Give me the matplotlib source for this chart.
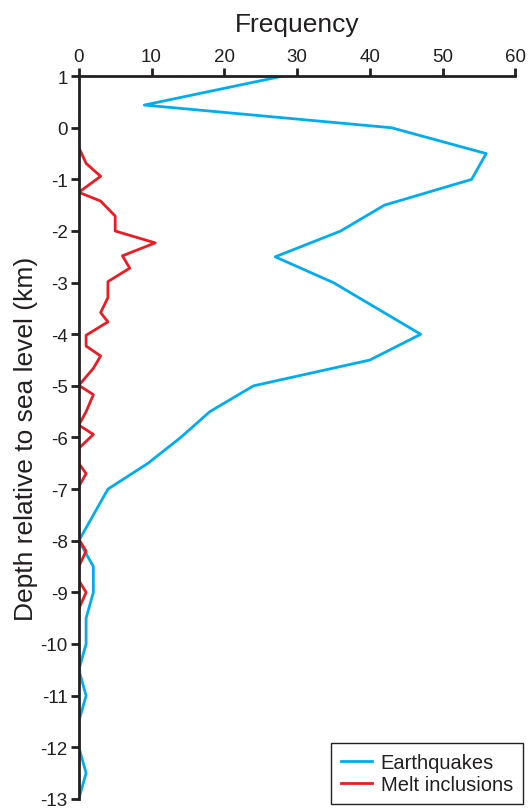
import matplotlib
matplotlib.use("Agg")
import matplotlib.pyplot as plt

# Earthquakes: depth (km) and frequency
eq_depth = [1, 0.44, 0, -0.5, -1, -1.5, -2, -2.5, -3, -3.5, -4, -4.5, -5, -5.5,
            -6, -6.5, -7, -7.5, -8, -8.5, -9, -9.5, -10, -10.5, -11, -11.5, -12,
            -12.5, -13]
eq_freq = [28, 9, 43, 56, 54, 42, 36, 27, 35, 41, 47, 40, 24, 18,
           14, 9.5, 4, 2, 0, 2, 2, 1, 1, 0, 1, 0, 0, 1, 0]

# Melt inclusions: depth (km) and frequency
mi_depth = [-0.38, -0.69, -0.94, -1.25, -1.42, -1.71, -2.0, -2.23, -2.48, -2.72,
            -2.98, -3.29, -3.58, -3.76, -4.02, -4.23, -4.42, -4.66, -4.99, -5.17,
            -5.5, -5.76, -5.94, -6.21, -6.5, -6.7, -6.95, -7.97, -8.2, -8.5,
            -8.77, -9.0, -9.32]
mi_freq = [0, 1, 3, 0, 3, 5, 5, 10.5, 6, 7,
           4, 4, 3, 4, 1, 1, 3, 2, 0, 2,
           1, 0, 2, 0, 0, 1, 0, 0, 1, 0,
           0, 1, 0]

xticks = [0, 10, 20, 30, 40, 50, 60]
yticks = list(range(1, -14, -1))

plt.rcParams['font.family'] = ['Liberation Sans', 'DejaVu Sans']

fig = plt.figure(figsize=(5.29, 8.12), dpi=100)
ax = fig.add_axes([0.149, 0.015, 0.825, 0.890])

dark = '#231F20'
ax.plot(eq_freq, eq_depth, color='#00AEEF', lw=2.0, label='Earthquakes', zorder=3)
ax.plot(mi_freq, mi_depth, color='#ED1C24', lw=2.0, label='Melt inclusions', zorder=3)

ax.set_xlim(0, 60)
ax.set_ylim(-13, 1)
ax.xaxis.tick_top()
ax.xaxis.set_label_position('top')
ax.set_xticks(xticks)
ax.set_yticks(yticks)
ax.set_yticklabels([str(t) for t in yticks])

for s in ['right', 'bottom']:
    ax.spines[s].set_visible(False)
for s in ['top', 'left']:
    ax.spines[s].set_linewidth(2.0)
    ax.spines[s].set_color(dark)
    ax.spines[s].set_zorder(4)

ax.tick_params(axis='both', direction='out', length=6, width=2.0, color=dark,
               labelsize=13.5, labelcolor=dark, pad=2)
ax.set_xlabel('Frequency', fontsize=19, color=dark, labelpad=12)
ax.set_ylabel('Depth relative to sea level (km)', fontsize=19, color=dark, labelpad=2)

leg = ax.legend(loc='lower right', bbox_to_anchor=(523 / 529, 1 - 805 / 812),
                bbox_transform=fig.transFigure, borderaxespad=0, fontsize=14.5,
                frameon=True, fancybox=False, edgecolor=dark, framealpha=1,
                handlelength=1.5, borderpad=0.5, labelspacing=0.15, handletextpad=0.45)
leg.get_frame().set_linewidth(1.0)
for t in leg.get_texts():
    t.set_color(dark)

fig.savefig('out.png', dpi=100)
